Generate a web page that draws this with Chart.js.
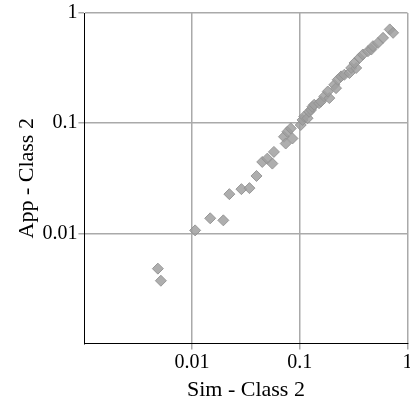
<!DOCTYPE html>
<html>
<head>
<meta charset="utf-8">
<script src="https://cdn.jsdelivr.net/npm/chart.js@4"></script>
<style>
    body { margin: 0; background: #fff; }
    #clip { width: 410px; height: 410px; overflow: hidden; }
    #wrap { width: 414px; height: 410px; }
</style>
</head>
<body>
<div id="clip"><div id="wrap"><canvas id="chart"></canvas></div></div>
<script>
// Sim vs App values, class 2
const simValues = [
    0.00481, 0.00513, 0.01067, 0.01473, 0.0195, 0.02218, 0.02871, 0.03409, 0.03963,
    0.0448, 0.0499, 0.0575, 0.0556, 0.0713, 0.0767, 0.0824, 0.074, 0.0855,
    0.102, 0.106, 0.110, 0.118, 0.122, 0.127, 0.131, 0.136, 0.151, 0.157,
    0.169, 0.188, 0.182, 0.209, 0.217, 0.225, 0.242, 0.259, 0.289, 0.300,
    0.334, 0.322, 0.358, 0.385, 0.429, 0.461, 0.478, 0.532, 0.593, 0.684, 0.735
];
const appValues = [
    0.00479, 0.00372, 0.01065, 0.01371, 0.01314, 0.02271, 0.02522, 0.02576, 0.0332,
    0.0445, 0.0477, 0.0549, 0.043, 0.0753, 0.0836, 0.0897, 0.0654, 0.0727,
    0.0963, 0.107, 0.115, 0.111, 0.127, 0.132, 0.141, 0.147, 0.152, 0.157,
    0.175, 0.169, 0.194, 0.223, 0.208, 0.248, 0.266, 0.275, 0.285, 0.317,
    0.317, 0.352, 0.391, 0.420, 0.450, 0.466, 0.500, 0.535, 0.595, 0.710, 0.661
];
const tickValues = [0.01, 0.1, 1];

const points = simValues.map((x, i) => ({ x: x, y: appValues[i] }));

const family = '"Liberation Serif", "DejaVu Serif", serif';

function axis(title) {
    return {
        type: 'logarithmic',
        min: 0.001,
        max: 1,
        afterBuildTicks: scale => { scale.ticks = tickValues.map(v => ({ value: v })); },
        ticks: {
            color: '#000',
            font: { family: family, size: 20 },
            padding: 1,
            autoSkip: false,
            maxRotation: 0,
            callback: v => String(v)
        },
        grid: { color: '#aaa', lineWidth: 1.5, tickLength: 6 },
        border: { color: '#000', width: 1 },
        title: { display: true, text: title, color: '#000', font: { family: family, size: 22 }, padding: 1 }
    };
}

new Chart(document.getElementById('chart'), {
    type: 'scatter',
    data: {
        datasets: [{
            data: points,
            pointStyle: 'rectRot',
            pointRadius: 5.5,
            backgroundColor: 'rgba(160,160,160,0.85)',
            borderColor: 'rgba(145,145,145,0.9)',
            borderWidth: 1
        }]
    },
    options: {
        animation: false,
        responsive: true,
        maintainAspectRatio: false,
        layout: { padding: { top: 0, right: 0, left: 13, bottom: 6 } },
        plugins: { legend: { display: false }, tooltip: { enabled: false } },
        scales: {
            x: axis('Sim - Class 2'),
            y: axis('App - Class 2')
        }
    }
});
</script>
</body>
</html>
